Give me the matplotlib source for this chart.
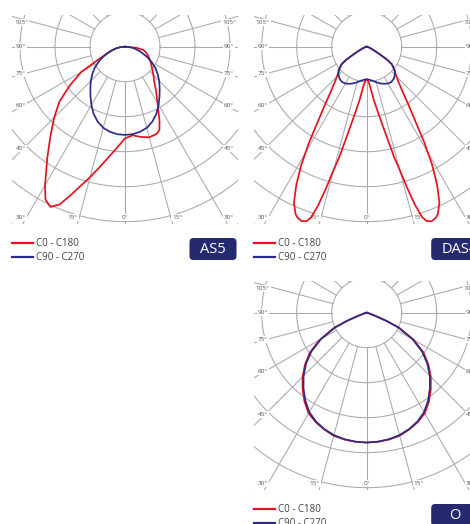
import numpy as np
import matplotlib
matplotlib.use("Agg")
import matplotlib.pyplot as plt
from matplotlib.patches import FancyBboxPatch
from matplotlib.transforms import Affine2D
from matplotlib.lines import Line2D

plt.rcParams['font.family'] = ['Open Sans', 'DejaVu Sans']

# ---------------- data (intensity in grid-circle units, angle from nadir, negative = C180/C270 side)
as5_red_ang = [-90, -85, -80, -75, -70, -65, -60, -55, -50, -45, -40, -35, -30, -27.5, -25, -22.5,
               -20, -17.5, -15, -12.5, -10, -5, 0, 5, 10, 15, 20, 22.5, 25, 30, 35, 40, 45, 50,
               55, 60, 65, 70, 75, 80, 85, 90]
as5_red_r = [0, 0.12, 0.24, 0.35, 0.52, 0.79, 1.44, 1.92, 2.45, 2.86, 3.31, 3.87, 4.57, 4.92, 5.05, 4.88,
             4.50, 4.15, 3.86, 3.58, 3.33, 2.93, 2.62, 2.54, 2.62, 2.68, 2.65, 2.57, 2.33, 1.86, 1.55,
             1.30, 1.15, 1.02, 0.92, 0.84, 0.76, 0.69, 0.62, 0.53, 0.32, 0]

as5_blue_ang = [-90, -85, -80, -75, -70, -65, -60, -55, -50, -45, -40, -35, -30, -25, -20, -15, -10, -5,
                0, 5, 10, 15, 20, 25, 30, 35, 40, 45, 50, 55, 60, 65, 70, 75, 80, 85, 90]
as5_blue_r = [0, 0.13, 0.25, 0.38, 0.52, 0.70, 0.88, 1.06, 1.22, 1.38, 1.54, 1.72, 1.92, 2.12, 2.28,
              2.40, 2.47, 2.51, 2.52, 2.51, 2.47, 2.40, 2.28, 2.12, 1.92, 1.72, 1.54, 1.38, 1.22, 1.06,
              0.88, 0.70, 0.52, 0.38, 0.25, 0.13, 0]

das4_red_ang = [0, 2.5, 5, 7.5, 10, 12.5, 14, 15, 16, 17, 18, 19, 20.5, 22, 23, 25, 27, 29, 31,
                33.5, 36, 38, 42, 46, 50, 55, 57.5, 60, 62.5, 65, 70, 80, 90]
das4_red_r = [0.93, 0.98, 1.15, 1.52, 1.95, 2.63, 3.27, 3.64, 4.20, 4.73, 5.12, 5.27, 5.32, 5.27,
              5.20, 4.92, 4.43, 3.85, 3.20, 2.46, 2.00, 1.71, 1.36, 1.16, 1.02, 0.88, 0.70, 0.45,
              0.28, 0.17, 0.09, 0.03, 0]

das4_blue_ang = [0, 5, 10, 15, 20, 25, 30, 35, 40, 45, 50, 55, 57.5, 60, 62.5, 65, 70, 80, 90]
das4_blue_r = [0.93, 0.95, 0.99, 1.05, 1.115, 1.17, 1.215, 1.23, 1.20, 1.14, 1.05, 0.88, 0.69,
               0.40, 0.25, 0.16, 0.08, 0.03, 0]

o_red_ang = [0, 5, 10, 15, 20, 25, 30, 35, 40, 45, 50, 55, 60, 65, 67.5, 70, 75, 80, 90]
o_red_r = [3.71, 3.70, 3.68, 3.64, 3.55, 3.45, 3.32, 3.10, 2.85, 2.59, 2.30, 1.98, 1.55, 1.03,
           0.62, 0.25, 0.06, 0.02, 0]

o_blue_ang = [0, 5, 10, 15, 20, 25, 30, 35, 40, 45, 50, 55, 60, 65, 67.5, 70, 75, 80, 90]
o_blue_r = [3.71, 3.70, 3.67, 3.62, 3.54, 3.43, 3.28, 3.06, 2.81, 2.55, 2.26, 1.93, 1.51, 1.00,
            0.60, 0.24, 0.06, 0.02, 0]

panel_names = ["AS5", "DAS4", "O"]
legend_labels = ["C0 - C180", "C90 - C270"]
tick_angles = [105, 90, 75, 60, 45, 30, 15, 0]

RED = "#e3141f"
BLUE = "#2b2c86"
GRID = "#a9a9a9"
NAVY = "#25296f"

W, H = 470, 524
UNIT = 35.0

fig = plt.figure(figsize=(W / 100, H / 100), dpi=100)
pxT = Affine2D().scale(1.0 / W, -1.0 / H).translate(0, 1) + fig.transFigure


def mirror(ang, r):
    a = np.asarray(ang, float)
    rr = np.asarray(r, float)
    full_a = np.concatenate([-a[::-1], a[1:]])
    full_r = np.concatenate([rr[::-1], rr[1:]])
    return full_a, full_r


def curve(ax, ang, r, color):
    t = np.radians(np.asarray(ang, float))
    r = np.asarray(r, float)
    ax.plot(r * np.sin(t), -r * np.cos(t), color=color, lw=1.25, solid_joinstyle='round', zorder=5)


label_pos = {105: (2.97, 0.68), 90: (2.97, 0.0), 75: (2.97, -0.76), 60: (2.97, -1.69),
             45: (2.97, -2.90), 30: (2.97, -4.89), 15: (1.49, -4.89), 0: (0.0, -4.89)}


def panel(cx, cy, name, red, blue, badge_w):
    left, right = cx - 113, cx + 113
    top, bottom = cy - 31.7, cy + 177.3
    ax = fig.add_axes([left / W, 1 - bottom / H, (right - left) / W, (bottom - top) / H])
    ax.set_xlim(-113 / UNIT, 113 / UNIT)
    ax.set_ylim(-177.3 / UNIT, 31.7 / UNIT)
    ax.axis('off')
    # grid circles
    tt = np.linspace(0, 2 * np.pi, 721)
    for rr in range(1, 8):
        ax.plot(rr * np.cos(tt), rr * np.sin(tt), color=GRID, lw=0.75, zorder=1)
    # rays
    for a in range(0, 181, 15):
        for s in (-1, 1):
            t = np.radians(s * a)
            ax.plot([np.sin(t), 12 * np.sin(t)], [-np.cos(t), -12 * np.cos(t)],
                    color=GRID, lw=0.75, zorder=1)
    # tick labels
    for a in tick_angles:
        x, y = label_pos[a]
        sides = (1,) if a == 0 else (-1, 1)
        for s in sides:
            ax.text(s * x, y, f"{a}°", ha='center', va='center', fontsize=4.6, color='#555555',
                    bbox=dict(boxstyle='square,pad=0.15', fc='white', ec='none'), zorder=3)
    curve(ax, red[0], red[1], RED)
    curve(ax, blue[0], blue[1], BLUE)
    # legend
    for i, (lab, col) in enumerate(zip(legend_labels, [RED, BLUE])):
        yy = cy + 196.3 + i * 14
        fig.add_artist(Line2D([cx - 113, cx - 92], [yy, yy], color=col, lw=1.6, transform=pxT))
        fig.text(cx - 89, yy, lab, transform=pxT, ha='left', va='center', fontsize=7,
                 color='#404040')
    # badge
    bx = cx + 64.5
    by = cy + 191.3
    fig.add_artist(FancyBboxPatch((bx, by), badge_w, 22, boxstyle='round,pad=0,rounding_size=4',
                                  fc=NAVY, ec='none', transform=pxT))
    fig.text(bx + badge_w / 2, by + 11.5, name, transform=pxT, ha='center', va='center',
             fontsize=10.5, color='white')


panel(125, 46.7, panel_names[0], (as5_red_ang, as5_red_r), (as5_blue_ang, as5_blue_r), 47)
panel(366.7, 46.7, panel_names[1], mirror(das4_red_ang, das4_red_r),
      mirror(das4_blue_ang, das4_blue_r), 56)
panel(366.7, 312.7, panel_names[2], mirror(o_red_ang, o_red_r), mirror(o_blue_ang, o_blue_r), 47)

fig.savefig("out.png", dpi=100)
